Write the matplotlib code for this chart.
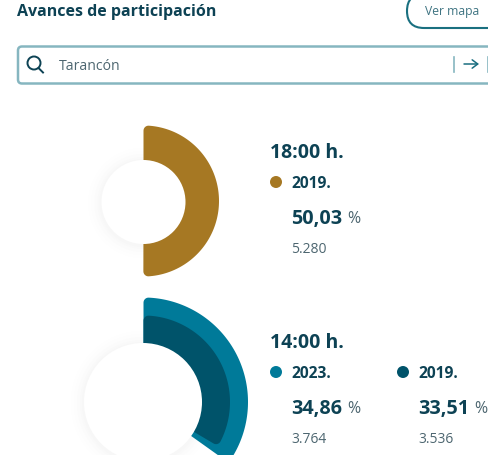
import numpy as np
import matplotlib
matplotlib.use('Agg')
import matplotlib.pyplot as plt
from matplotlib.patches import Circle, FancyBboxPatch, PathPatch
from matplotlib.path import Path

plt.rcParams['font.family'] = ['Open Sans', 'DejaVu Sans']

title = 'Avances de participación'
boton = 'Ver mapa'
municipio = 'Tarancón'

# bloque de las 18:00
horas_a = '18:00 h.'
years_a = ['2019.']
pct_a = [50.03]
votos_a = ['5.280']

# bloque de las 14:00
horas_b = '14:00 h.'
years_b = ['2023.', '2019.']
pct_b = [34.86, 33.51]
votos_b = ['3.764', '3.536']

GOLD = '#a67823'
TEAL = '#007a99'
DARK = '#00536a'
TXT = '#0d4254'
GREY = '#4d6670'


def pct_str(v):
    return f'{v:.2f}'.replace('.', ',')


# sector de corona con las esquinas exteriores redondeadas (y hacia abajo en pixeles)
def sector(cx, cy, R, r, pct, color, rc=5):
    end = np.radians(pct * 3.6)
    a = np.arcsin(rc / (R - rc))
    pts = []
    # esquina inicial
    c0 = np.array([np.sin(a), -np.cos(a)]) * (R - rc)
    for t in np.linspace(-np.pi / 2, a, 10):
        pts.append(c0 + rc * np.array([np.sin(t), -np.cos(t)]))
    # arco exterior
    for t in np.linspace(a, end - a, 120):
        pts.append(R * np.array([np.sin(t), -np.cos(t)]))
    # esquina final
    c1 = np.array([np.sin(end - a), -np.cos(end - a)]) * (R - rc)
    for t in np.linspace(end - a, end + np.pi / 2, 10):
        pts.append(c1 + rc * np.array([np.sin(t), -np.cos(t)]))
    # arco interior (queda tapado por el circulo blanco)
    for t in np.linspace(end, 0, 120):
        pts.append(r * np.array([np.sin(t), -np.cos(t)]))
    pts = np.array(pts) + [cx, cy]
    return PathPatch(Path(np.vstack([pts, pts[0]]), closed=True), fc=color, lw=0, zorder=2)


def agujero(ax, cx, cy, r):
    # sombra suave por debajo de los anillos, en grises opacos
    for extra, gris in [(13, '#fefefe'), (10, '#fdfdfd'), (7, '#fbfbfb'), (4, '#f9f9f9'), (2, '#f7f7f7')]:
        ax.add_patch(Circle((cx, cy + 1), r + extra, fc=gris, lw=0, zorder=1))
    ax.add_patch(Circle((cx, cy), r, fc='white', lw=0, zorder=4))


def leyenda(ax, x, y, year, valor, votos, color):
    ax.add_patch(Circle((x, y), 6, fc=color, lw=0))
    ax.text(x + 15.5, y + 1.5, year, fontsize=11.2, fontweight='bold', color=TXT, va='center')
    ax.text(x + 15.5, y + 37, pct_str(valor), fontsize=14.2, fontweight='bold', color=TXT, va='center')
    ax.text(x + 71.5, y + 37, '%', fontsize=11.5, color=GREY, va='center')
    ax.text(x + 15.5, y + 67.5, votos, fontsize=10, color=GREY, va='center')


fig = plt.figure(figsize=(4.89, 4.55), dpi=100)
ax = fig.add_axes([0, 0, 1, 1])
ax.set_xlim(0, 489)
ax.set_ylim(455, 0)
ax.axis('off')

ax.text(17, 12, title, fontsize=11.5, fontweight='bold', color=TXT, va='center')

# boton ver mapa
ax.add_patch(FancyBboxPatch((407, -6), 140, 34, boxstyle='round,pad=0,rounding_size=17',
                            fc='white', ec='#1a7080', lw=1.5))
ax.text(425, 12, boton, fontsize=8.7, color='#3f7482', va='center')

# buscador
ax.add_patch(FancyBboxPatch((18, 46.5), 520, 37, boxstyle='round,pad=0,rounding_size=4',
                            fc='white', ec='#86b6c0', lw=1.8))
ax.add_patch(Circle((34, 63), 6.5, fc='none', ec=TXT, lw=1.4))
ax.plot([38.5, 43], [68, 72.5], color=TXT, lw=1.4)
ax.text(59, 66, municipio, fontsize=10.1, color=GREY, va='center')
ax.plot([453.5, 453.5], [57, 72], color='#86b6c0', lw=1.2)
ax.plot([488, 488], [57, 72], color='#86b6c0', lw=1.2)
ax.annotate('', xy=(479, 64), xytext=(464, 64),
            arrowprops=dict(arrowstyle='->,head_width=0.3,head_length=0.4', color='#1a6e80', lw=1.1,
                            shrinkA=0, shrinkB=0))

# donut de las 18:00
ax.add_patch(sector(143.5, 201, 75.5, 30, pct_a[0], GOLD))
agujero(ax, 143.5, 202, 42)

# donut de las 14:00
ax.add_patch(sector(143.5, 402, 104.5, 40, pct_b[0], TEAL))
ax.add_patch(sector(143.5, 402, 86.5, 40, pct_b[1], DARK))
agujero(ax, 143, 402, 59)

ax.text(270, 153.5, horas_a, fontsize=14, fontweight='bold', color=TXT, va='center')
leyenda(ax, 276, 182, years_a[0], pct_a[0], votos_a[0], GOLD)

ax.text(270, 343.5, horas_b, fontsize=14, fontweight='bold', color=TXT, va='center')
leyenda(ax, 276, 372, years_b[0], pct_b[0], votos_b[0], TEAL)
leyenda(ax, 403, 372, years_b[1], pct_b[1], votos_b[1], DARK)

fig.savefig('out.png', dpi=100)
